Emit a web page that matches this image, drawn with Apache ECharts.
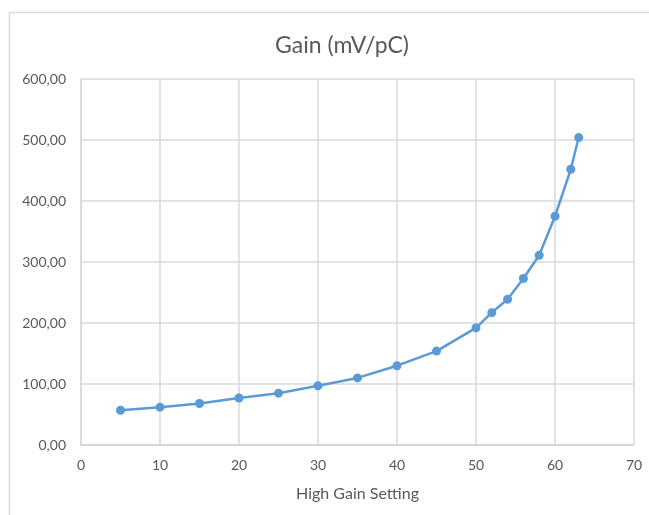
<!DOCTYPE html>
<html>
<head>
<meta charset="utf-8">
<script src="https://cdn.jsdelivr.net/npm/echarts@6/dist/echarts.min.js"></script>
<style>
  html, body { margin: 0; padding: 0; background: #fff; }
  #chart { width: 649px; height: 515px; }
</style>
</head>
<body>
<div id="chart"></div>
<script>
// High gain setting vs. gain (mV/pC)
var settings = [5, 10, 15, 20, 25, 30, 35, 40, 45, 50, 52, 54, 56, 58, 60, 62, 63];
var gains = [57, 62, 68, 77, 85, 97, 110, 130, 154, 192, 217, 239, 273, 311, 375, 452, 504];

var points = settings.map(function (s, i) { return [s, gains[i]]; });

var chart = echarts.init(document.getElementById('chart'));
var fontFam = 'Lato, "Open Sans", sans-serif';

var option = {
  animation: false,
  backgroundColor: '#fff',
  graphic: [{
    type: 'rect',
    shape: { x: 9.5, y: 12.5, width: 700, height: 520 },
    style: { fill: 'none', stroke: '#d9d9d9', lineWidth: 1.5 },
    silent: true
  }],
  title: {
    text: 'Gain (mV/pC)',
    left: 337,
    textAlign: 'center',
    top: 29,
    textStyle: { color: '#595959', fontSize: 23, fontWeight: 'normal', fontFamily: fontFam }
  },
  grid: { left: 81, right: 15, top: 79, bottom: 70 },
  xAxis: {
    type: 'value',
    min: 0, max: 70, interval: 10,
    name: 'High Gain Setting',
    nameLocation: 'middle',
    nameGap: 41,
    nameTextStyle: { color: '#595959', fontSize: 16, fontFamily: fontFam },
    axisLine: { show: true, lineStyle: { color: '#d0d0d0', width: 1.5 } },
    axisTick: { show: false },
    axisLabel: { color: '#595959', fontSize: 14, margin: 13, fontFamily: fontFam },
    splitLine: { show: true, lineStyle: { color: '#d9d9d9', width: 1.5 } }
  },
  yAxis: {
    type: 'value',
    min: 0, max: 600, interval: 100,
    axisLine: { show: true, lineStyle: { color: '#d9d9d9', width: 1.5 } },
    axisTick: { show: false },
    axisLabel: {
      color: '#595959', fontSize: 14, margin: 15, fontFamily: fontFam,
      formatter: function (v) { return v.toFixed(2).replace('.', ','); }
    },
    splitLine: { show: true, lineStyle: { color: '#d9d9d9', width: 1.5 } }
  },
  series: [{
    type: 'line',
    data: points,
    symbol: 'circle',
    symbolSize: 9,
    lineStyle: { color: '#5b9bd5', width: 2.5 },
    itemStyle: { color: '#5b9bd5' }
  }]
};

chart.setOption(option);
</script>
</body>
</html>
